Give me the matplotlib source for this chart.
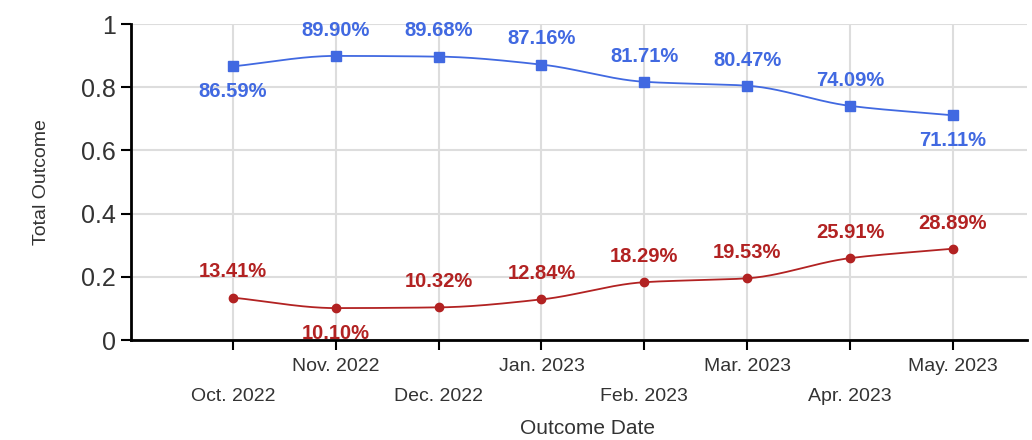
import numpy as np
import matplotlib
matplotlib.use("Agg")
import matplotlib.pyplot as plt

months = ["Oct. 2022", "Nov. 2022", "Dec. 2022", "Jan. 2023",
          "Feb. 2023", "Mar. 2023", "Apr. 2023", "May. 2023"]
blue_vals = [0.8659, 0.8990, 0.8968, 0.8716, 0.8171, 0.8047, 0.7409, 0.7111]
red_vals = [0.1341, 0.1010, 0.1032, 0.1284, 0.1829, 0.1953, 0.2591, 0.2889]
blue_below = [0, 7]   # label positions (below point)
red_below = [1]

BLUE = "#4169E1"
RED = "#B22222"
TXT = "#333333"

plt.rcParams['font.family'] = ['Liberation Sans', 'DejaVu Sans']


def monotone(x, y, n=300):
    x = np.asarray(x, float); y = np.asarray(y, float)
    h = np.diff(x); d = np.diff(y) / h
    m = np.zeros_like(y)
    m[0] = d[0]; m[-1] = d[-1]
    for i in range(1, len(y) - 1):
        if d[i - 1] * d[i] <= 0:
            m[i] = 0
        else:
            w1 = 2 * h[i] + h[i - 1]; w2 = h[i] + 2 * h[i - 1]
            m[i] = (w1 + w2) / (w1 / d[i - 1] + w2 / d[i])
    xs = np.linspace(x[0], x[-1], n)
    ys = np.empty_like(xs)
    for k, xv in enumerate(xs):
        i = min(np.searchsorted(x, xv, side='right') - 1, len(x) - 2)
        t = (xv - x[i]) / h[i]
        h00 = 2*t**3 - 3*t**2 + 1; h10 = t**3 - 2*t**2 + t
        h01 = -2*t**3 + 3*t**2; h11 = t**3 - t**2
        ys[k] = h00*y[i] + h10*h[i]*m[i] + h01*y[i+1] + h11*h[i]*m[i+1]
    return xs, ys


fig = plt.figure(figsize=(10.32, 4.4), dpi=100)
ax = fig.add_axes([131/1032, 100/440, 896/1032, 316/440])

x = np.arange(len(months))
for vals, col, mk, ms, below in [(blue_vals, BLUE, 's', 7, blue_below),
                                 (red_vals, RED, 'o', 6, red_below)]:
    xs, ys = monotone(x, vals)
    ax.plot(xs, ys, color=col, lw=1.3, zorder=3)
    ax.plot(x, vals, linestyle='none', marker=mk, ms=ms, color=col, zorder=4)
    for i, v in enumerate(vals):
        off = -18 if i in below else 18.5
        ax.annotate(f"{v*100:.2f}%", (i, v), xytext=(0, off),
                    textcoords='offset points', ha='center', va='center',
                    fontsize=14.5, fontweight='bold', color=col, zorder=5)

ax.set_xlim(-0.99, 7.72)
ax.set_ylim(0, 1)
ax.set_xticks(x)
ax.set_xticklabels(months)
for i, lab in enumerate(ax.get_xticklabels()):
    lab.set_y(-0.008 if i % 2 == 1 else -0.103)
ax.set_yticks([0, 0.2, 0.4, 0.6, 0.8, 1])
ax.set_yticklabels(["0", "0.2", "0.4", "0.6", "0.8", "1"])
ax.tick_params(axis='x', labelsize=14, colors='black', labelcolor=TXT,
               length=7, width=1.5, pad=4)
ax.tick_params(axis='y', labelsize=18, colors='black', labelcolor=TXT,
               length=7, width=1.5, pad=4)

ax.grid(True, color='#dddddd', lw=1.5, zorder=0)
ax.set_axisbelow(True)
for s in ['top', 'right']:
    ax.spines[s].set_visible(False)
for s in ['left', 'bottom']:
    ax.spines[s].set_linewidth(2)
    ax.spines[s].set_color('black')

ax.set_xlabel("Outcome Date", fontsize=15, color=TXT)
ax.xaxis.set_label_coords(0.51, -0.25)
ax.set_ylabel("Total Outcome", fontsize=14, color=TXT)
ax.yaxis.set_label_coords(-0.09, 0.5)

fig.savefig("out.png", dpi=100)
